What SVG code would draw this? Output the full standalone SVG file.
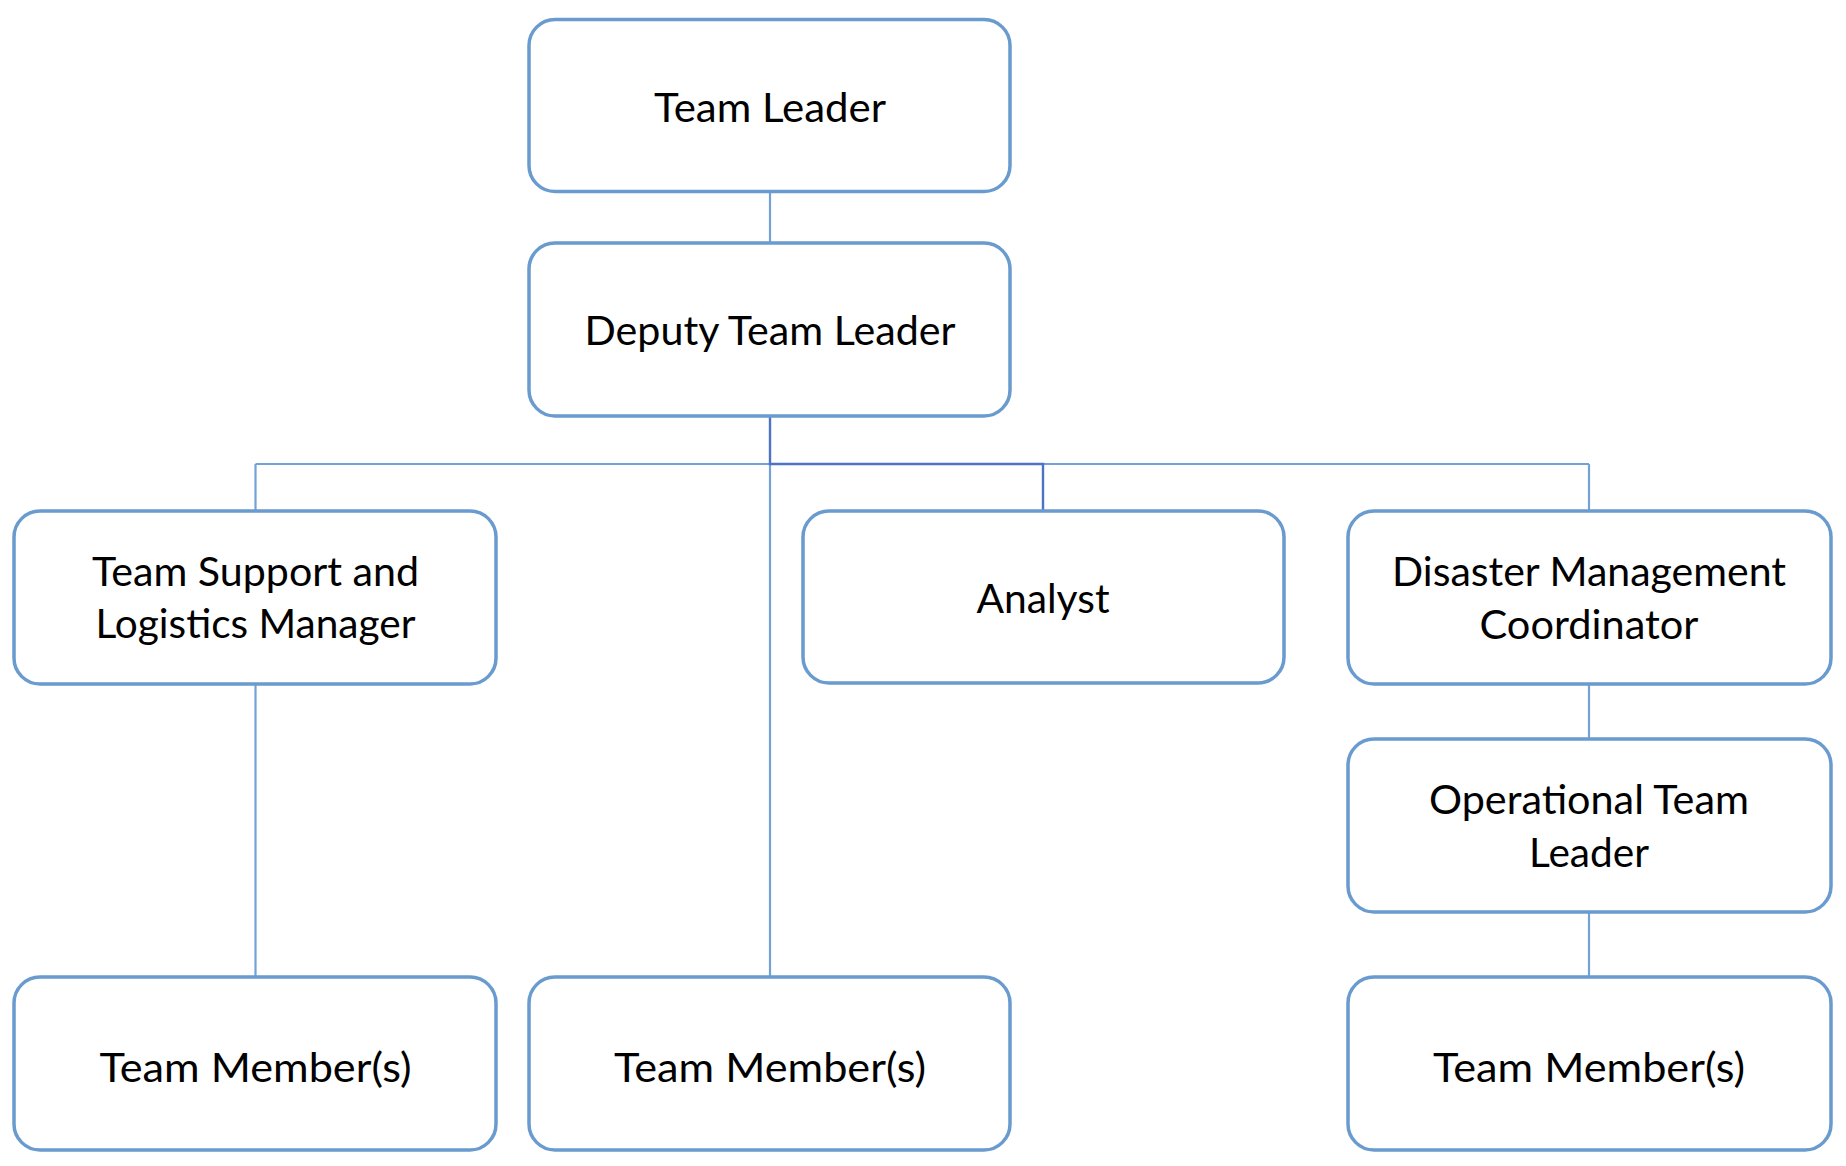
<svg xmlns="http://www.w3.org/2000/svg" width="1846" height="1166" viewBox="0 0 1846 1166">
<style>
.box{fill:#ffffff;stroke:#6a9bcf;stroke-width:3.5}
.lbl{font-family:Lato,"Open Sans","Liberation Sans",sans-serif;font-size:40px;fill:#000000;text-anchor:middle}
.ln{fill:none;stroke:#72a2d8;stroke-width:2.2}
.dk{fill:none;stroke:#4d74c4;stroke-width:2.4}
</style>
<rect width="1846" height="1166" fill="#ffffff"/>
<g id="connectors">
<line class="ln" x1="770" y1="191" x2="770" y2="243"/>
<line class="ln" x1="255.5" y1="464" x2="1589" y2="464"/>
<line class="ln" x1="255.5" y1="464" x2="255.5" y2="511"/>
<line class="ln" x1="1589" y1="464" x2="1589" y2="511"/>
<line class="ln" x1="770" y1="464" x2="770" y2="977"/>
<line class="ln" x1="255.5" y1="684" x2="255.5" y2="977"/>
<line class="ln" x1="1589" y1="684" x2="1589" y2="739"/>
<line class="ln" x1="1589" y1="912" x2="1589" y2="977"/>
<path class="dk" d="M770 416 V464 H1043 V511"/>
</g>
<g id="team-leader">
<rect class="box" x="529" y="19.5" width="481" height="172" rx="26"/>
<text class="lbl" x="770" y="122" textLength="232" lengthAdjust="spacingAndGlyphs">Team Leader</text>
</g>
<g id="deputy-team-leader">
<rect class="box" x="529" y="243" width="481" height="173" rx="26"/>
<text class="lbl" x="770" y="345" textLength="371" lengthAdjust="spacingAndGlyphs">Deputy Team Leader</text>
</g>
<g id="team-support">
<rect class="box" x="14" y="511" width="482" height="173" rx="26"/>
<text class="lbl" x="255.5" y="586" textLength="327" lengthAdjust="spacingAndGlyphs">Team Support and</text>
<text class="lbl" x="255.5" y="638" textLength="320" lengthAdjust="spacingAndGlyphs">Logistics Manager</text>
</g>
<g id="analyst">
<rect class="box" x="803" y="511" width="481" height="172" rx="26"/>
<text class="lbl" x="1043" y="613" textLength="133" lengthAdjust="spacingAndGlyphs">Analyst</text>
</g>
<g id="disaster-management-coordinator">
<rect class="box" x="1348" y="511" width="483" height="173" rx="26"/>
<text class="lbl" x="1589" y="586" textLength="394" lengthAdjust="spacingAndGlyphs">Disaster Management</text>
<text class="lbl" x="1589" y="639" textLength="219" lengthAdjust="spacingAndGlyphs">Coordinator</text>
</g>
<g id="operational-team-leader">
<rect class="box" x="1348" y="739" width="483" height="173" rx="26"/>
<text class="lbl" x="1589" y="814" textLength="320" lengthAdjust="spacingAndGlyphs">Operational Team</text>
<text class="lbl" x="1589" y="867" textLength="120" lengthAdjust="spacingAndGlyphs">Leader</text>
</g>
<g id="team-members-1">
<rect class="box" x="14" y="977" width="482" height="173" rx="26"/>
<text class="lbl" x="255.5" y="1081.5" textLength="312" lengthAdjust="spacingAndGlyphs">Team Member(s)</text>
</g>
<g id="team-members-2">
<rect class="box" x="529" y="977" width="481" height="173" rx="26"/>
<text class="lbl" x="770" y="1081.5" textLength="312" lengthAdjust="spacingAndGlyphs">Team Member(s)</text>
</g>
<g id="team-members-3">
<rect class="box" x="1348" y="977" width="483" height="173" rx="26"/>
<text class="lbl" x="1589" y="1081.5" textLength="312" lengthAdjust="spacingAndGlyphs">Team Member(s)</text>
</g>
</svg>
